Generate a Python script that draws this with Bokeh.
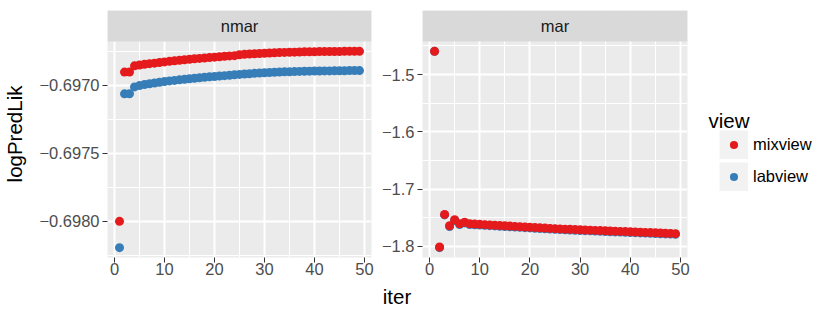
from bokeh.plotting import figure
from bokeh.models import Range1d, FixedTicker, CustomJSTickFormatter, Legend, LegendItem, Label
from bokeh.layouts import row, column
from bokeh.embed import file_html
from bokeh.resources import INLINE
from bokeh.core.properties import value

# ---------------- data ----------------
iters = list(range(1, 50))

nmar_mixview = [-0.698002, -0.696904, -0.696903, -0.696858, -0.696852, -0.696847, -0.696842,
                -0.696838, -0.696833, -0.696829, -0.696825, -0.696821, -0.696817, -0.696813,
                -0.696810, -0.696806, -0.696803, -0.696800, -0.696797, -0.696794, -0.696791,
                -0.696788, -0.696785, -0.696783, -0.696776, -0.696773, -0.696771, -0.696769,
                -0.696767, -0.696765, -0.696763, -0.696762, -0.696760, -0.696759, -0.696758,
                -0.696757, -0.696756, -0.696755, -0.696754, -0.696754, -0.696753, -0.696753,
                -0.696752, -0.696752, -0.696752, -0.696751, -0.696751, -0.696751, -0.696751]

nmar_labview = [-0.698196, -0.697064, -0.697063, -0.697013, -0.697003, -0.696996, -0.696990,
                -0.696984, -0.696979, -0.696974, -0.696969, -0.696965, -0.696961, -0.696957,
                -0.696953, -0.696949, -0.696946, -0.696942, -0.696939, -0.696936, -0.696933,
                -0.696930, -0.696927, -0.696924, -0.696921, -0.696918, -0.696916, -0.696913,
                -0.696911, -0.696909, -0.696907, -0.696905, -0.696904, -0.696902, -0.696901,
                -0.696900, -0.696899, -0.696898, -0.696897, -0.696896, -0.696896, -0.696895,
                -0.696895, -0.696894, -0.696894, -0.696894, -0.696893, -0.696893, -0.696893]

mar_mixview = [-1.4593, -1.8010, -1.7442, -1.7640, -1.7535, -1.7605, -1.7577, -1.7605,
               -1.7610, -1.7615, -1.7620, -1.7625, -1.7630, -1.7635, -1.7640, -1.7645,
               -1.7650, -1.7655, -1.7660, -1.7665, -1.7670, -1.7675, -1.7680, -1.7685,
               -1.7690, -1.7694, -1.7698, -1.7702, -1.7705, -1.7709, -1.7713, -1.7716,
               -1.7720, -1.7724, -1.7727, -1.7731, -1.7734, -1.7738, -1.7741, -1.7745,
               -1.7748, -1.7752, -1.7755, -1.7759, -1.7762, -1.7766, -1.7769, -1.7773, -1.7777]

mar_labview = [-1.4593, -1.8022, -1.7450, -1.7652, -1.7547, -1.7617, -1.7589, -1.7617,
               -1.7622, -1.7627, -1.7632, -1.7637, -1.7642, -1.7647, -1.7652, -1.7657,
               -1.7662, -1.7667, -1.7672, -1.7677, -1.7682, -1.7687, -1.7692, -1.7697,
               -1.7702, -1.7706, -1.7710, -1.7714, -1.7717, -1.7721, -1.7725, -1.7728,
               -1.7732, -1.7736, -1.7739, -1.7743, -1.7746, -1.7750, -1.7753, -1.7757,
               -1.7760, -1.7764, -1.7767, -1.7771, -1.7774, -1.7778, -1.7781, -1.7785, -1.7789]

panel_names = ["nmar", "mar"]
series_names = ["mixview", "labview"]
series_colors = ["#E41A1C", "#377EB8"]

x_ticks = [0, 10, 20, 30, 40, 50]
x_minor = [5, 15, 25, 35, 45]
nmar_y_ticks = [-0.6980, -0.6975, -0.6970]
nmar_y_labels = ["\u22120.6980", "\u22120.6975", "\u22120.6970"]
nmar_y_minor = [-0.69825, -0.69775, -0.69725, -0.69675]
mar_y_ticks = [-1.8, -1.7, -1.6, -1.5]
mar_y_labels = ["\u22121.8", "\u22121.7", "\u22121.6", "\u22121.5"]
mar_y_minor = [-1.75, -1.65, -1.55, -1.45]

x_title = "iter"
y_title = "logPredLik"
legend_title = "view"

# ---------------- style ----------------
FONT = "Liberation Sans"
TOP_H = 281
BORDER_TOP = 10
BORDER_BOTTOM = 24
STRIP_H = 31
PANEL_H = 216
TICK_FS = "16.5px"
TITLE_FS = "20.5px"


def make_panel(name, mix, lab, yticks, ylabels, yminor, width, bl, br, ylabel):
    xlo, xhi = min(iters), max(iters)
    xr = xhi - xlo
    x0, x1 = xlo - 0.05 * xr, xhi + 0.05 * xr
    allv = list(mix) + list(lab)
    ylo, yhi = min(allv), max(allv)
    yr = yhi - ylo
    y0, y1 = ylo - 0.05 * yr, yhi + 0.05 * yr
    ytop = y1 + (y1 - y0) * STRIP_H / PANEL_H

    p = figure(width=width, height=TOP_H, x_range=Range1d(x0, x1), y_range=Range1d(y0, ytop),
               output_backend="svg", toolbar_location=None,
               min_border_left=bl, min_border_right=br,
               min_border_top=BORDER_TOP, min_border_bottom=BORDER_BOTTOM)
    p.background_fill_color = "#EBEBEB"
    p.border_fill_color = "white"
    p.outline_line_color = None

    xt = FixedTicker(ticks=x_ticks, minor_ticks=x_minor)
    yt = FixedTicker(ticks=yticks, minor_ticks=yminor)
    p.xaxis.ticker = xt
    p.xgrid.ticker = xt
    p.yaxis.ticker = yt
    p.ygrid.ticker = yt
    p.yaxis.formatter = CustomJSTickFormatter(args=dict(vals=yticks, labs=ylabels), code="""
        for (let i = 0; i < vals.length; i++) {
            if (Math.abs(vals[i] - tick) < 1e-9) { return labs[i]; }
        }
        return '';
    """)

    for g in (p.xgrid, p.ygrid):
        g.grid_line_color = "white"
        g.grid_line_width = 2
        g.minor_grid_line_color = "white"
        g.minor_grid_line_width = 1

    for ax in (p.xaxis, p.yaxis):
        ax.axis_line_color = None
        ax.major_tick_line_color = "#333333"
        ax.major_tick_line_width = 1
        ax.major_tick_out = 5
        ax.major_tick_in = 0
        ax.minor_tick_line_color = None
        ax.major_label_text_font = FONT
        ax.major_label_text_font_size = TICK_FS
        ax.major_label_text_color = "#4D4D4D"
    p.xaxis.major_label_standoff = 0
    p.yaxis.major_label_standoff = 3

    if ylabel:
        p.yaxis.axis_label = ylabel
        p.yaxis.axis_label_text_font = FONT
        p.yaxis.axis_label_text_font_size = TITLE_FS
        p.yaxis.axis_label_text_font_style = "normal"
        p.yaxis.axis_label_text_color = "black"
        p.yaxis.axis_label_standoff = 10

    # series (labview drawn first, mixview on top)
    p.scatter(iters, lab, size=9, fill_color=series_colors[1], line_color=None)
    p.scatter(iters, mix, size=9, fill_color=series_colors[0], line_color=None)

    # facet strip
    p.quad(left=[x0], right=[x1], bottom=[y1], top=[ytop], fill_color="#D9D9D9", line_color=None)
    p.text(x=[(x0 + x1) / 2], y=[(y1 + ytop) / 2], text=[name], text_align="center",
           text_baseline="middle", text_font=value(FONT), text_font_size=TICK_FS,
           text_color="#1A1A1A")
    return p


left = make_panel(panel_names[0], nmar_mixview, nmar_labview, nmar_y_ticks, nmar_y_labels,
                  nmar_y_minor, 377, 106, 6, y_title)
right = make_panel(panel_names[1], mar_mixview, mar_labview, mar_y_ticks, mar_y_labels,
                   mar_y_minor, 323, 45, 13, None)

# legend panel: legend glyphs come from out-of-view copies of the series
lg = figure(width=130, height=TOP_H, x_range=Range1d(0, 1), y_range=Range1d(0, 1),
            toolbar_location=None, output_backend="svg", min_border=0,
            x_axis_type=None, y_axis_type=None)
lg.outline_line_color = None
items = []
for s, c, vals in zip(series_names, series_colors, [nmar_mixview, nmar_labview]):
    key_bg = lg.line(x=iters, y=vals, line_color="#F2F2F2", line_width=29, line_cap="butt")
    dot = lg.scatter(x=iters, y=vals, size=9, fill_color=c, line_color="#F2F2F2", line_width=3.5)
    items.append(LegendItem(label=s, renderers=[key_bg, dot]))
legend = Legend(items=items, location=(19, 66),
                border_line_color=None, background_fill_alpha=0, padding=0, margin=0,
                spacing=3, glyph_width=29, glyph_height=29, label_height=29,
                label_standoff=5, label_text_font=FONT, label_text_font_size=TICK_FS,
                label_text_color="black", label_text_baseline="middle",
                inactive_fill_alpha=0)
lg.add_layout(legend)
lg.add_layout(Label(x=8, y=137.5, x_units="screen", y_units="screen", text=legend_title,
                    text_align="left", text_baseline="alphabetic", text_font=FONT,
                    text_font_size=TITLE_FS, text_color="black"))

# bottom strip carrying the shared x title as an axis label spanning both panels
bt = figure(width=830, height=29, x_range=Range1d(0, 1), y_range=Range1d(0, 1),
            toolbar_location=None, output_backend="svg",
            min_border_left=106, min_border_right=143, min_border_top=0, min_border_bottom=26,
            y_axis_type=None)
bt.outline_line_color = None
bt.grid.visible = False
bt.xaxis.ticker = FixedTicker(ticks=[])
bt.xaxis.axis_line_color = None
bt.xaxis.major_tick_line_color = None
bt.xaxis.minor_tick_line_color = None
bt.xaxis.major_tick_out = 0
bt.xaxis.major_label_text_font_size = "0px"
bt.xaxis.major_label_standoff = 0
bt.xaxis.axis_label = x_title
bt.xaxis.axis_label_standoff = 0
bt.xaxis.axis_label_text_font = FONT
bt.xaxis.axis_label_text_font_size = TITLE_FS
bt.xaxis.axis_label_text_font_style = "normal"
bt.xaxis.axis_label_text_color = "black"

layout = column(row(left, right, lg, spacing=0), bt, spacing=0)

open("out.html", "w").write(file_html(layout, INLINE))
